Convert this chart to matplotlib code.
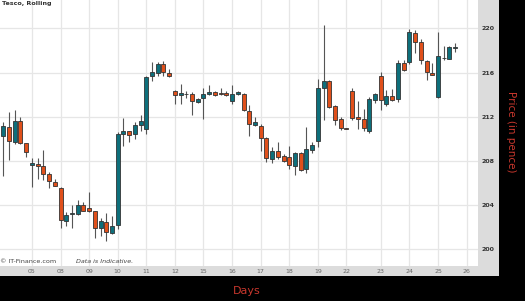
import matplotlib
matplotlib.use("Agg")
import matplotlib.pyplot as plt
from matplotlib.patches import Rectangle

# candle data (pence), one candle per slot
opens = [210.21, 211.05, 209.69, 211.57, 209.60, 207.66, 207.73, 207.51, 206.82, 206.12,
         205.51, 202.57, 203.18, 203.18, 204.03, 203.73, 203.48, 201.96, 202.42, 201.51,
         202.21, 210.39, 210.69, 210.45, 211.24, 210.91, 215.66, 215.96, 216.78, 215.96,
         214.33, 214.00, 214.09, 214.03, 213.33, 213.69, 214.09, 214.21, 214.09, 214.15,
         213.39, 214.03, 214.09, 212.51, 211.27, 211.12, 210.05, 208.18, 208.85, 208.48,
         208.39, 207.57, 208.73, 207.27, 209.00, 209.78, 214.60, 215.24, 212.94, 211.78,
         210.96, 214.33, 211.96, 211.82, 210.75, 213.48, 215.66, 213.18, 213.85, 213.57,
         216.82, 216.96, 219.60, 218.73, 217.03, 216.00, 213.78, 217.30, 217.27, 218.22]
closes = [211.12, 209.78, 211.60, 209.64, 208.78, 207.82, 207.57, 206.82, 206.21, 205.75,
          202.66, 203.12, 203.27, 204.00, 203.48, 203.48, 201.91, 202.57, 201.60, 202.12,
          210.45, 210.75, 210.36, 211.21, 211.57, 215.60, 216.09, 216.73, 216.03, 215.69,
          214.00, 214.12, 214.02, 213.39, 213.64, 214.09, 214.24, 214.00, 214.09, 213.94,
          214.09, 214.24, 212.57, 211.36, 211.51, 210.09, 208.24, 208.85, 208.33, 208.03,
          207.64, 208.73, 207.21, 209.09, 209.48, 214.60, 215.21, 212.87, 211.73, 210.96,
          210.93, 211.91, 211.78, 211.00, 213.57, 214.03, 213.55, 213.87, 213.48, 216.87,
          216.21, 219.69, 218.78, 217.12, 216.05, 215.82, 217.48, 217.33, 218.27, 218.24]
highs = [211.51, 212.42, 212.57, 211.96, 209.62, 208.24, 208.27, 209.00, 206.96, 206.36,
         205.66, 203.39, 203.96, 204.45, 204.24, 205.21, 203.48, 202.87, 203.27, 203.03,
         210.60, 211.87, 210.75, 211.51, 212.18, 215.66, 216.96, 216.96, 217.03, 216.36,
         214.39, 215.00, 214.33, 214.24, 213.69, 214.64, 214.91, 214.33, 214.64, 214.30,
         214.91, 214.33, 214.15, 213.03, 211.96, 211.36, 210.15, 209.24, 209.69, 208.64,
         209.39, 208.78, 208.78, 211.05, 209.69, 215.45, 220.30, 215.36, 213.03, 211.96,
         210.98, 214.64, 213.39, 212.66, 213.78, 214.15, 216.05, 214.39, 214.55, 217.18,
         217.12, 219.91, 219.85, 219.00, 217.12, 216.82, 219.64, 218.39, 218.39, 218.69]
lows = [206.60, 208.09, 209.55, 209.55, 208.33, 205.60, 206.36, 206.27, 205.55, 205.72,
        201.96, 202.12, 201.96, 203.12, 203.42, 203.33, 201.00, 201.21, 200.76, 201.36,
        201.82, 209.33, 209.69, 210.00, 210.75, 210.45, 215.24, 215.69, 215.66, 215.60,
        213.18, 213.12, 213.69, 212.18, 213.27, 211.82, 213.94, 213.85, 214.00, 213.85,
        213.18, 213.94, 212.51, 210.21, 211.12, 208.94, 207.87, 207.78, 208.18, 207.94,
        207.27, 206.75, 207.12, 206.87, 208.69, 209.24, 211.73, 212.82, 211.21, 210.82,
        210.90, 211.66, 210.91, 210.69, 210.51, 213.24, 212.64, 212.94, 213.39, 213.33,
        216.12, 216.73, 217.73, 216.73, 215.36, 215.75, 213.73, 217.18, 217.21, 217.87]

tick_pos = [5, 10, 15, 20, 25, 30, 35, 40, 45, 50, 55, 60, 66, 71, 76, 81]
tick_labels = ["05", "08", "09", "10", "11", "12", "15", "16", "17", "18",
               "19", "22", "23", "24", "25", "26"]
price_ticks = [200, 204, 208, 212, 216, 220]

UP = "#0e6f7b"
DOWN = "#e0501b"

W, H = 525, 301
fig = plt.figure(figsize=(W / 100, H / 100), dpi=100, facecolor="black")

# grey frame behind the plot (axis label strips)
fig.add_artist(Rectangle((0, 1 - 276 / H), 499 / W, 276 / H, transform=fig.transFigure,
                         facecolor="#dcdcdc", edgecolor="none", zorder=-1))

ax = fig.add_axes([0, 1 - 266 / H, 478 / W, 266 / H])
ax.set_facecolor("white")

x = list(range(len(opens)))
ax.vlines(x, lows, highs, color="#555555", lw=0.8, zorder=2)
bottoms = [min(o, c) for o, c in zip(opens, closes)]
heights = [max(abs(c - o), 0.05) for o, c in zip(opens, closes)]
colors = [UP if c > o else DOWN for o, c in zip(opens, closes)]
ax.bar(x, heights, bottom=bottoms, width=0.7, color=colors,
       edgecolor="#333333", linewidth=0.6, zorder=3)

ax.set_xlim(-0.58, 83.0)
ax.set_ylim(198.48, 222.57)
ax.set_xticks(tick_pos)
ax.set_xticklabels(tick_labels)
ax.set_yticks(price_ticks)
ax.yaxis.tick_right()
ax.grid(True, color="#e6e6e6", lw=0.9, zorder=0)
ax.set_axisbelow(True)
for s in ax.spines.values():
    s.set_visible(False)
ax.tick_params(axis="y", length=0, pad=2.3, labelsize=4.5, labelcolor="#333333")
ax.tick_params(axis="x", length=0, pad=2.2, labelsize=4.5, labelcolor="#666666")
for t in ax.get_yticklabels():
    t.set_fontweight("bold")

fig.text(2 / W, 1 - 3.8 / H, "Tesco, Rolling", fontsize=4.6, fontweight="bold",
         color="#333333", va="center", ha="left")
fig.text(0, 1 - 261.7 / H, "© IT-Finance.com", fontsize=4.6, color="#444444",
         va="center", ha="left")
fig.text(76 / W, 1 - 261.7 / H, "Data is Indicative.", fontsize=4.6, color="#444444",
         style="italic", va="center", ha="left")

fig.text(247 / W, 1 - 291 / H, "Days", fontsize=8, color="#c8372d",
         va="center", ha="center")
fig.text(511 / W, 1 - 132 / H, "Price (in pence)", fontsize=7.5, color="#c8372d",
         rotation=-90, va="center", ha="center")

fig.savefig("out.png", dpi=100, facecolor="black")
